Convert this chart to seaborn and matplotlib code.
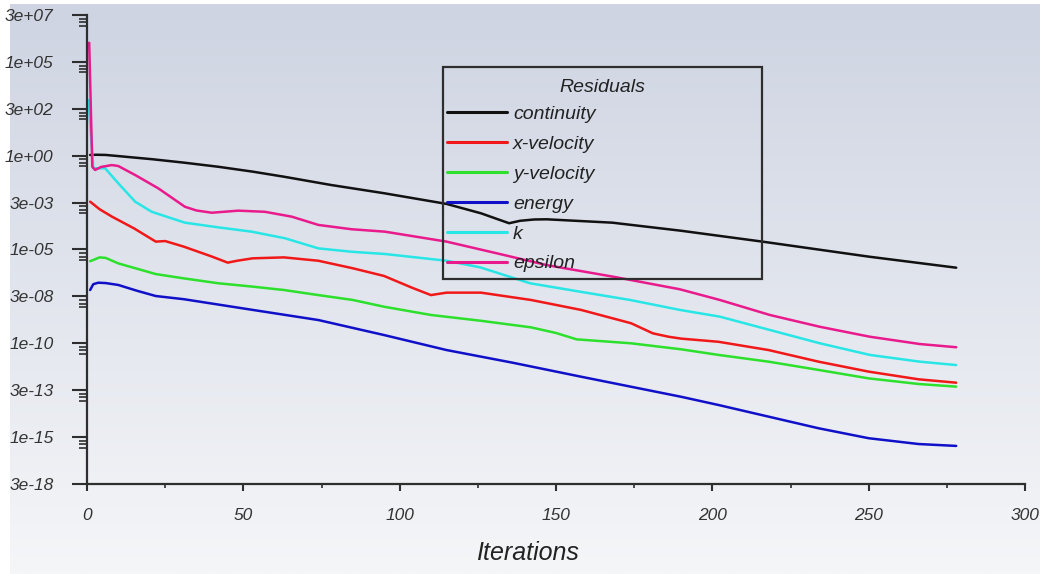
import numpy as np
import pandas as pd
import matplotlib
matplotlib.use("Agg")
import matplotlib.pyplot as plt
import seaborn as sns
from matplotlib.patches import Rectangle
from matplotlib.ticker import NullFormatter

# ---------------- data ----------------
series_names = ["continuity", "x-velocity", "y-velocity", "energy", "k", "epsilon"]
series_colors = ["#111111", "#f01818", "#2ce02c", "#1010c8", "#28e6e6", "#e81a8c"]

continuity_iter = [1, 3, 6, 10, 21, 31, 42, 53, 63, 78, 95, 115, 126, 135, 138.5, 143, 147, 168, 190, 216, 250, 278]
continuity_log10 = [0.04, 0.05, 0.04, -0.02, -0.19, -0.37, -0.59, -0.85, -1.12, -1.56, -2.0, -2.57, -3.07, -3.60,
                    -3.47, -3.40, -3.39, -3.57, -4.0, -4.58, -5.38, -5.97]

xvel_iter = [1, 4, 8, 15, 22, 25, 31, 40, 45, 48, 53, 63, 74, 85, 95, 104, 110, 115, 126, 142, 158, 174, 181,
             186, 190, 202, 218, 234, 250, 266, 278]
xvel_log10 = [-2.45, -2.85, -3.25, -3.87, -4.58, -4.55, -4.85, -5.38, -5.70, -5.60, -5.47, -5.42, -5.60, -6.00,
              -6.41, -7.04, -7.43, -7.30, -7.30, -7.69, -8.22, -8.93, -9.47, -9.65, -9.75, -9.92, -10.36, -10.98,
              -11.51, -11.92, -12.10]

yvel_iter = [1, 2, 4, 6, 10, 22, 31, 42, 53, 63, 74, 85, 95, 110, 126, 142, 150, 156.6, 174, 190, 202, 218, 234,
             250, 266, 278]
yvel_log10 = [-5.62, -5.56, -5.42, -5.45, -5.74, -6.31, -6.54, -6.80, -6.98, -7.16, -7.43, -7.69, -8.05, -8.49,
              -8.80, -9.15, -9.45, -9.79, -10.00, -10.32, -10.62, -10.98, -11.42, -11.87, -12.17, -12.31]

energy_iter = [1, 2, 3.6, 6, 10, 16, 22, 31, 53, 74, 95, 115, 136, 158, 190, 202, 218, 234, 250, 266, 278]
energy_log10 = [-7.16, -6.85, -6.77, -6.79, -6.89, -7.20, -7.48, -7.65, -8.22, -8.76, -9.56, -10.36, -11.03,
                -11.78, -12.85, -13.29, -13.91, -14.53, -15.06, -15.37, -15.47]

k_iter = [0.5, 2, 5.8, 10, 15.4, 20.7, 31.3, 42, 52.7, 63.3, 74, 84.6, 95.3, 115, 125.7, 141.7, 157.7, 173.7,
          189.6, 202.4, 218.4, 234.4, 250.4, 266.4, 278]
k_log10 = [2.97, -0.67, -0.67, -1.47, -2.45, -2.99, -3.57, -3.82, -4.05, -4.40, -4.94, -5.12, -5.24, -5.60, -5.95,
           -6.80, -7.25, -7.69, -8.22, -8.58, -9.29, -10.00, -10.62, -10.98, -11.16]

eps_iter = [0.7, 1.7, 2.6, 4.5, 7.9, 10, 15.4, 22.8, 31.3, 35, 39.9, 48.4, 56.9, 65.5, 74, 84.6, 95.3, 115, 131,
            147, 168.3, 189.6, 202.4, 218.4, 234.4, 250.4, 266.4, 278]
eps_log10 = [6.02, -0.59, -0.76, -0.60, -0.50, -0.55, -1.03, -1.74, -2.72, -2.92, -3.04, -2.93, -2.99, -3.25,
             -3.69, -3.92, -4.05, -4.58, -5.20, -5.83, -6.45, -7.12, -7.69, -8.49, -9.12, -9.65, -10.04, -10.21]

ytick_exponents = [-17.5, -15, -12.5, -10, -7.5, -5, -2.5, 0, 2.5, 5, 7.5]
ytick_labels = ["3e-18", "1e-15", "3e-13", "1e-10", "3e-08", "1e-05", "3e-03", "1e+00", "3e+02", "1e+05", "3e+07"]
xtick_values = [0, 50, 100, 150, 200, 250, 300]
xtick_labels = ["0", "50", "100", "150", "200", "250", "300"]

# ---------------- build long table ----------------
iters = [continuity_iter, xvel_iter, yvel_iter, energy_iter, k_iter, eps_iter]
logs = [continuity_log10, xvel_log10, yvel_log10, energy_log10, k_log10, eps_log10]
frames = []
for name, it, lg in zip(series_names, iters, logs):
    frames.append(pd.DataFrame({"Iterations": it, "residual": np.power(10.0, lg), "series": name}))
df = pd.concat(frames, ignore_index=True)

# ---------------- figure ----------------
W, H = 1043, 574
sns.set_theme(style="white")
plt.rcParams["font.family"] = ["Liberation Sans", "DejaVu Sans"]
fig = plt.figure(figsize=(W / 100, H / 100), dpi=100, facecolor="white")

def fx(px):
    return px / W

def fy(py):
    return 1 - py / H

# gradient background
bg = fig.add_axes([fx(10), 0, fx(1040) - fx(10), fy(4)], zorder=-5)
top = np.array([206, 212, 226]) / 255.0
bot = np.array([245, 246, 248]) / 255.0
t = np.linspace(0, 1, 256)[:, None]
grad = top[None, :] * (1 - t) + bot[None, :] * t
bg.imshow(grad[:, None, :], aspect="auto", extent=[0, 1, 0, 1])
bg.set_axis_off()

ax = fig.add_axes([fx(87), fy(484), fx(1025) - fx(87), fy(15) - fy(484)])
ax.set_facecolor("none")

sns.lineplot(data=df, x="Iterations", y="residual", hue="series", hue_order=series_names,
             palette=dict(zip(series_names, series_colors)), sort=False, estimator=None,
             linewidth=1.8, ax=ax, legend=True)

ax.set_yscale("log")
ax.set_xlim(0, 300)
ax.set_ylim(10 ** -17.5, 10 ** 7.5)

ax.set_yticks([10.0 ** e for e in ytick_exponents])
ax.set_yticklabels(ytick_labels)
minor_y = []
for e in ytick_exponents:
    for d in (0.2, 0.38, 0.56):
        if e - d > -17.5:
            minor_y.append(10.0 ** (e - d))
ax.set_yticks(minor_y, minor=True)
ax.yaxis.set_minor_formatter(NullFormatter())
ax.set_xticks(xtick_values)
ax.set_xticklabels(xtick_labels)
ax.set_xticks([25, 75, 125, 175, 225, 275], minor=True)
ax.xaxis.set_minor_formatter(NullFormatter())

edge = "#2e2e2e"
for s in ["top", "right"]:
    ax.spines[s].set_visible(False)
for s in ["left", "bottom"]:
    ax.spines[s].set_color(edge)
    ax.spines[s].set_linewidth(1.6)

ax.tick_params(axis="y", which="major", direction="out", length=11, width=1.5, color=edge,
               pad=13, labelsize=12.5, labelcolor="#333333", left=True)
ax.tick_params(axis="y", which="minor", direction="out", length=6, width=1.2, color=edge, left=True)
ax.tick_params(axis="x", which="major", direction="out", length=5, width=1.5, color=edge,
               pad=12, labelsize=12.5, labelcolor="#333333", bottom=True)
ax.tick_params(axis="x", which="minor", direction="out", length=3, width=1.2, color=edge, bottom=True)
for lbl in ax.get_xticklabels() + ax.get_yticklabels():
    lbl.set_fontstyle("italic")

ax.set_xlabel("")
ax.set_ylabel("")
fig.text(fx(527), fy(560), "Iterations", ha="center", va="baseline", fontsize=18,
         fontstyle="italic", color="#222222")

# legend
handles, labels = ax.get_legend_handles_labels()
leg = ax.legend(handles, labels, loc="upper left", bbox_to_anchor=(fx(447), fy(105.5)),
                bbox_transform=fig.transFigure, frameon=False, fontsize=14, handlelength=3.1,
                handletextpad=0.3, labelspacing=0.63, borderpad=0, borderaxespad=0)
for txt in leg.get_texts():
    txt.set_fontstyle("italic")
    txt.set_color("#222222")
for ln in leg.get_lines():
    ln.set_linewidth(2.2)

fig.add_artist(Rectangle((fx(443), fy(279)), fx(762) - fx(443), fy(67) - fy(279),
                         transform=fig.transFigure, fill=False, edgecolor=edge, linewidth=1.6))
fig.text(fx(602.5), fy(92), "Residuals", ha="center", va="baseline", fontsize=14,
         fontstyle="italic", color="#222222")

fig.savefig("out.png", dpi=100, facecolor="white")
